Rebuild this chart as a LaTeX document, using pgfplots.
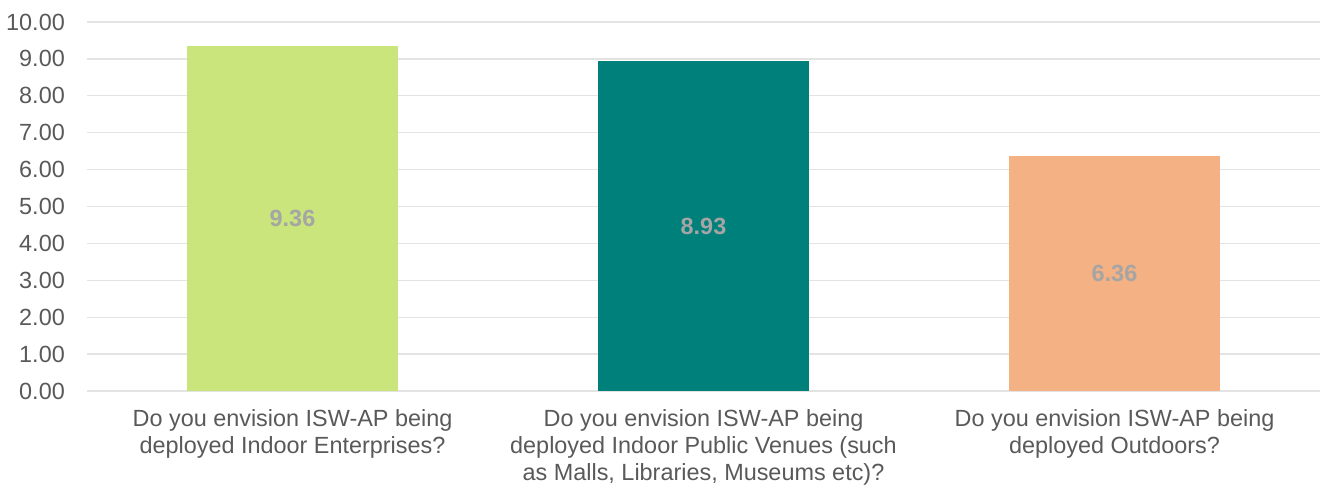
\documentclass[border=0pt]{standalone}
\usepackage{pgfplots}
\pgfplotsset{compat=1.18}
\usepackage{fontspec}
\setmainfont{Liberation Sans}

\definecolor{barGreen}{HTML}{C9E57C}
\definecolor{barTeal}{HTML}{00807A}
\definecolor{barOrange}{HTML}{F4B183}
\definecolor{gridGray}{HTML}{E3E3E3}
\definecolor{labelGray}{HTML}{595959}
\definecolor{valueGray}{HTML}{A5A5A5}

\begin{document}
\begin{tikzpicture}
\useasboundingbox (-87bp,-97bp) rectangle (1234bp,391bp);
\begin{axis}[
  at={(0,0)}, anchor=south west,
  scale only axis,
  width=1233bp, height=369bp,
  xmin=-0.5, xmax=2.5,
  ymin=0, ymax=10,
  ybar, bar width=211bp, bar shift=0pt,
  axis line style={draw=none},
  major tick length=0pt,
  ymajorgrids,
  grid style={gridGray, line width=1.3bp},
  ytick={0,1,...,10},
  yticklabel style={
    /pgf/number format/fixed,
    /pgf/number format/fixed zerofill,
    /pgf/number format/precision=2,
    /pgf/number format/assume math mode=true,
    inner sep=0pt, xshift=-22bp, anchor=east,
    font=\fontsize{23.5}{28}\selectfont, text=labelGray},
  xtick={0,1,2},
  xticklabels={
    {Do you envision ISW-AP being\\deployed Indoor Enterprises?},
    {Do you envision ISW-AP being\\deployed Indoor Public Venues (such\\as Malls, Libraries, Museums etc)?},
    {Do you envision ISW-AP being\\deployed Outdoors?}},
  xticklabel style={
    align=center, inner sep=0pt, anchor=north, yshift=-18bp,
    font=\fontsize{23.5}{27.5}\selectfont, text=labelGray},
  visualization depends on={rawy \as \rawy},
  nodes near coords={\pgfmathprintnumber[fixed,fixed zerofill,precision=2,assume math mode=true]{\pgfplotspointmeta}},
  every node near coord/.append style={
    anchor=center, yshift={-\rawy*18.45bp},
    font=\bfseries\fontsize{23.5}{27}\selectfont, text=valueGray},
]
  % mean score per deployment scenario
  \addplot[fill=barGreen, draw=none] coordinates {(0,9.36)};
  \addplot[fill=barTeal, draw=none] coordinates {(1,8.93)};
  \addplot[fill=barOrange, draw=none] coordinates {(2,6.36)};
\end{axis}
\end{tikzpicture}
\end{document}
